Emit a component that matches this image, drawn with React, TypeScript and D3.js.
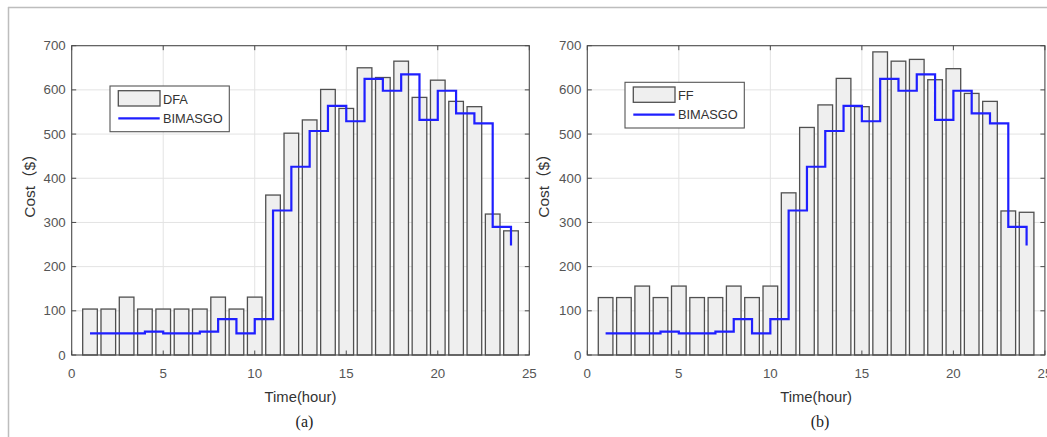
import React from "react";
import * as d3 from "d3";

const hours = [1, 2, 3, 4, 5, 6, 7, 8, 9, 10, 11, 12, 13, 14, 15, 16, 17, 18, 19, 20, 21, 22, 23, 24];
const dfa = [104, 104, 131, 104, 104, 104, 104, 131, 104, 131, 362, 502, 532, 601, 558, 650, 628, 665, 583, 622, 574, 562, 319, 281];
const ff = [130, 130, 156, 130, 156, 130, 130, 156, 130, 156, 367, 515, 566, 626, 562, 686, 665, 669, 623, 648, 592, 574, 326, 323];
const bimasgo = [49, 49, 49, 53, 49, 49, 53, 81, 49, 81, 327, 426, 507, 564, 529, 625, 598, 635, 532, 598, 547, 524, 290, 248];
const xTicks = [0, 5, 10, 15, 20, 25];
const yTicks = [0, 100, 200, 300, 400, 500, 600, 700];

const SANS = "'Liberation Sans', Arial, 'Noto Sans CJK SC', sans-serif";
const SERIF = "'Liberation Serif', 'Times New Roman', serif";
const AXIS = "#4a4a4a";

type PanelProps = {
  left: number;
  bars: number[];
  barName: string;
  caption: string;
  legend: { x: number; y: number };
  yLabelX: number;
};

function Panel({ left, bars, barName, caption, legend, yLabelX }: PanelProps) {
  const width = 457.6;
  const top = 45.7;
  const bottom = 355;
  const x = d3.scaleLinear().domain([0, 25]).range([left, left + width]);
  const y = d3.scaleLinear().domain([0, 700]).range([bottom, top]);
  const bw = (x(0.8) - x(0));
  const line = d3
    .line<number>()
    .x((_, i) => x(hours[i]))
    .y((d) => y(d))
    .curve(d3.curveStepAfter);
  const tickLen = 4.5;
  const right = left + width;
  return (
    <g>
      <rect x={left} y={top} width={width} height={bottom - top} fill="#fff" />
      {xTicks.slice(1, -1).map((t) => (
        <line key={"gx" + t} x1={x(t)} x2={x(t)} y1={top} y2={bottom} stroke="#e3e3e3" strokeWidth={1} />
      ))}
      {yTicks.slice(1, -1).map((t) => (
        <line key={"gy" + t} x1={left} x2={right} y1={y(t)} y2={y(t)} stroke="#e3e3e3" strokeWidth={1} />
      ))}
      {bars.map((v, i) => (
        <rect
          key={"b" + i}
          x={x(hours[i]) - bw / 2}
          y={y(v)}
          width={bw}
          height={y(0) - y(v)}
          fill="#efefef"
          stroke="#505050"
          strokeWidth={1.3}
        />
      ))}
      <path d={line(bimasgo) || ""} fill="none" stroke="#1f1fff" strokeWidth={2.2} />
      <rect x={left} y={top} width={width} height={bottom - top} fill="none" stroke={AXIS} strokeWidth={1.1} />
      {xTicks.map((t) => (
        <g key={"tx" + t}>
          <line x1={x(t)} x2={x(t)} y1={bottom} y2={bottom - tickLen} stroke={AXIS} />
          <line x1={x(t)} x2={x(t)} y1={top} y2={top + tickLen} stroke={AXIS} />
          <text x={x(t)} y={373} textAnchor="middle" dominantBaseline="central" fontFamily={SANS} fontSize={13.3} fill="#555">
            {t}
          </text>
        </g>
      ))}
      {yTicks.map((t) => (
        <g key={"ty" + t}>
          <line x1={left} x2={left + tickLen} y1={y(t)} y2={y(t)} stroke={AXIS} />
          <line x1={right} x2={right - tickLen} y1={y(t)} y2={y(t)} stroke={AXIS} />
          <text x={left - 6} y={y(t)} textAnchor="end" dominantBaseline="central" fontFamily={SANS} fontSize={13.3} fill="#555">
            {t}
          </text>
        </g>
      ))}
      <text x={(left + right) / 2} y={397} textAnchor="middle" dominantBaseline="central" fontFamily={SANS} fontSize={14.8} fill="#333">
        Time(hour)
      </text>
      <text x={(left + right) / 2 + 4} y={421} textAnchor="middle" dominantBaseline="central" fontFamily={SERIF} fontSize={16} fill="#222">
        {caption}
      </text>
      <text
        transform={`translate(${yLabelX},182) rotate(-90)`}
        textAnchor="middle"
        dominantBaseline="central"
        fontFamily={SANS}
        fontSize={15.5}
        fill="#333"
      >
        Cost（$）
      </text>
      <g transform={`translate(${legend.x},${legend.y})`}>
        <rect x={0} y={0} width={119.3} height={45.7} fill="#fff" stroke="#555" strokeWidth={1.1} />
        <rect x={8.3} y={4.7} width={41.7} height={15.3} fill="#efefef" stroke="#505050" strokeWidth={1.3} />
        <text x={53} y={13.5} dominantBaseline="central" fontFamily={SANS} fontSize={12.8} fill="#333">
          {barName}
        </text>
        <line x1={8.3} x2={49.7} y1={32.3} y2={32.3} stroke="#1f1fff" strokeWidth={2.2} />
        <text x={53} y={32.3} dominantBaseline="central" fontFamily={SANS} fontSize={12.8} fill="#333">
          BIMASGO
        </text>
      </g>
    </g>
  );
}

export default function App() {
  return (
    <div style={{ position: "fixed", left: 0, top: 0 }}>
      <svg width={1047} height={437} style={{ display: "block", background: "#fff" }}>
        <rect x={0} y={0} width={1047} height={437} fill="#fff" />
        <line x1={8.5} x2={8.5} y1={7} y2={437} stroke="#bdbdbd" strokeWidth={1.5} />
        <line x1={8} x2={1047} y1={7.5} y2={7.5} stroke="#bdbdbd" strokeWidth={1.5} />
        <Panel left={71.7} bars={dfa} barName="DFA" caption="(a)" legend={{ x: 110, y: 86 }} yLabelX={29} />
        <Panel left={587.3} bars={ff} barName="FF" caption="(b)" legend={{ x: 625, y: 82.3 }} yLabelX={543} />
      </svg>
    </div>
  );
}
